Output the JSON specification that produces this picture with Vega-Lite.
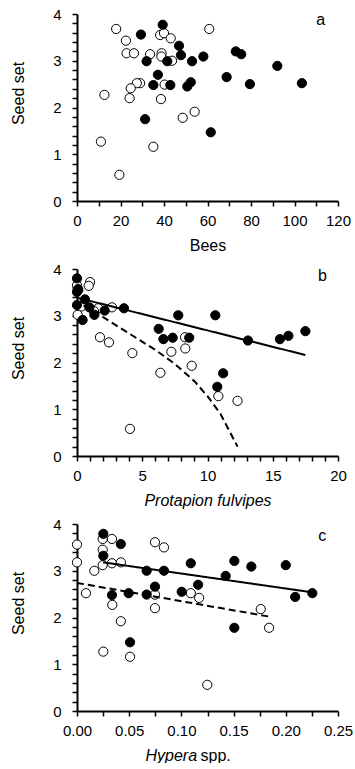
{
  "$schema": "https://vega.github.io/schema/vega-lite/v6.json",
  "padding": {"left": 10, "top": 7, "right": 0, "bottom": 0},
  "background": "white",
  "bounds": "flush",
  "spacing": 68,
  "config": {
    "font": "Liberation Sans",
    "view": {"stroke": null},
    "axis": {
      "grid": false,
      "domainColor": "black",
      "domainWidth": 2,
      "tickColor": "black",
      "tickWidth": 1.5,
      "tickSize": 5,
      "labelColor": "black",
      "labelFont": "Liberation Sans",
      "labelFontSize": 15,
      "titleColor": "black",
      "titleFont": "Liberation Sans",
      "titleFontSize": 16,
      "titleFontWeight": "normal",
      "labelFlush": false,
      "labelOverlap": false,
      "labelBound": false
    },
    "axisY": {"labelPadding": 11, "titleX": -59, "titleY": 79, "titleBaseline": "middle", "titleAngle": -90},
    "axisX": {"labelPadding": 7, "titleY": 44, "titleBaseline": "middle"}
  },
  "datasets": {
    "a_pts": [
      {"x": 18, "y": 3.68, "g": "open"}, {"x": 22.5, "y": 3.43, "g": "open"}, {"x": 22.8, "y": 3.16, "g": "open"},
      {"x": 26.2, "y": 3.16, "g": "open"}, {"x": 33.6, "y": 3.14, "g": "open"}, {"x": 38.2, "y": 3.55, "g": "open"},
      {"x": 40, "y": 3.59, "g": "open"}, {"x": 43.1, "y": 3.48, "g": "open"}, {"x": 38.9, "y": 3.16, "g": "open"},
      {"x": 38.8, "y": 3.09, "g": "open"}, {"x": 43.7, "y": 3.0, "g": "open"}, {"x": 60.8, "y": 3.68, "g": "open"},
      {"x": 29, "y": 2.52, "g": "open"}, {"x": 27.5, "y": 2.52, "g": "open"}, {"x": 24.7, "y": 2.41, "g": "open"},
      {"x": 24.2, "y": 2.2, "g": "open"}, {"x": 12.6, "y": 2.27, "g": "open"}, {"x": 40.3, "y": 2.49, "g": "open"},
      {"x": 38.6, "y": 2.18, "g": "open"}, {"x": 48.6, "y": 1.78, "g": "open"}, {"x": 54.1, "y": 1.91, "g": "open"},
      {"x": 11, "y": 1.27, "g": "open"}, {"x": 35.1, "y": 1.16, "g": "open"}, {"x": 19.5, "y": 0.56, "g": "open"},
      {"x": 39.4, "y": 3.77, "g": "filled"}, {"x": 29.4, "y": 3.56, "g": "filled"}, {"x": 46.9, "y": 3.32, "g": "filled"},
      {"x": 47.8, "y": 3.12, "g": "filled"}, {"x": 32, "y": 2.99, "g": "filled"}, {"x": 41.5, "y": 2.99, "g": "filled"},
      {"x": 52.9, "y": 2.99, "g": "filled"}, {"x": 58.1, "y": 3.09, "g": "filled"}, {"x": 73, "y": 3.2, "g": "filled"},
      {"x": 75.5, "y": 3.14, "g": "filled"}, {"x": 92.1, "y": 2.89, "g": "filled"}, {"x": 37.2, "y": 2.7, "g": "filled"},
      {"x": 35.1, "y": 2.48, "g": "filled"}, {"x": 42.9, "y": 2.48, "g": "filled"}, {"x": 50.7, "y": 2.45, "g": "filled"},
      {"x": 52.3, "y": 2.54, "g": "filled"}, {"x": 68.8, "y": 2.65, "g": "filled"}, {"x": 79.5, "y": 2.5, "g": "filled"},
      {"x": 103.4, "y": 2.52, "g": "filled"}, {"x": 31.3, "y": 1.75, "g": "filled"}, {"x": 61.5, "y": 1.47, "g": "filled"}
    ],
    "b_pts": [
      {"x": 0, "y": 3.65, "g": "open"}, {"x": 0.1, "y": 3.55, "g": "open"}, {"x": 1.0, "y": 3.72, "g": "open"},
      {"x": 0.9, "y": 3.64, "g": "open"}, {"x": 0.05, "y": 3.02, "g": "open"}, {"x": 0.35, "y": 3.2, "g": "open"},
      {"x": 1.63, "y": 3.16, "g": "open"}, {"x": 2.68, "y": 3.18, "g": "open"}, {"x": 1.3, "y": 3.1, "g": "open"},
      {"x": 1.76, "y": 2.54, "g": "open"}, {"x": 2.45, "y": 2.43, "g": "open"}, {"x": 4.24, "y": 2.2, "g": "open"},
      {"x": 7.23, "y": 2.23, "g": "open"}, {"x": 8.3, "y": 2.3, "g": "open"}, {"x": 8.28, "y": 2.54, "g": "open"},
      {"x": 8.79, "y": 1.93, "g": "open"}, {"x": 6.39, "y": 1.78, "g": "open"}, {"x": 10.83, "y": 1.28, "g": "open"},
      {"x": 12.3, "y": 1.18, "g": "open"}, {"x": 4.06, "y": 0.58, "g": "open"},
      {"x": 0, "y": 3.8, "g": "filled"}, {"x": 0.08, "y": 3.57, "g": "filled"}, {"x": 0, "y": 3.51, "g": "filled"},
      {"x": 0.61, "y": 3.35, "g": "filled"}, {"x": 0, "y": 3.23, "g": "filled"}, {"x": 0.95, "y": 3.18, "g": "filled"},
      {"x": 1.33, "y": 3.02, "g": "filled"}, {"x": 0.43, "y": 2.91, "g": "filled"}, {"x": 2.12, "y": 3.11, "g": "filled"},
      {"x": 3.6, "y": 3.16, "g": "filled"}, {"x": 7.76, "y": 3.01, "g": "filled"}, {"x": 10.6, "y": 3.01, "g": "filled"},
      {"x": 6.26, "y": 2.72, "g": "filled"}, {"x": 6.62, "y": 2.5, "g": "filled"}, {"x": 7.33, "y": 2.53, "g": "filled"},
      {"x": 8.6, "y": 2.53, "g": "filled"}, {"x": 13.1, "y": 2.47, "g": "filled"}, {"x": 15.55, "y": 2.5, "g": "filled"},
      {"x": 16.2, "y": 2.57, "g": "filled"}, {"x": 17.5, "y": 2.67, "g": "filled"}, {"x": 11.2, "y": 1.77, "g": "filled"},
      {"x": 10.75, "y": 1.48, "g": "filled"}
    ],
    "b_lines": [
      {"x": 0.1, "y": 3.38, "s": "solid"}, {"x": 17.5, "y": 2.16, "s": "solid"},
      {"x": 0.5, "y": 3.22, "s": "dashed"}, {"x": 2, "y": 2.97, "s": "dashed"}, {"x": 4, "y": 2.62, "s": "dashed"},
      {"x": 6, "y": 2.27, "s": "dashed"}, {"x": 7.5, "y": 1.97, "s": "dashed"}, {"x": 9, "y": 1.6, "s": "dashed"},
      {"x": 10, "y": 1.28, "s": "dashed"}, {"x": 11, "y": 0.9, "s": "dashed"}, {"x": 12.3, "y": 0.2, "s": "dashed"}
    ],
    "c_pts": [
      {"x": 0, "y": 3.56, "g": "open"}, {"x": 0, "y": 3.18, "g": "open"}, {"x": 0.0166, "y": 3.0, "g": "open"},
      {"x": 0.0086, "y": 2.52, "g": "open"}, {"x": 0.0246, "y": 3.68, "g": "open"}, {"x": 0.0246, "y": 3.45, "g": "open"},
      {"x": 0.0335, "y": 3.68, "g": "open"}, {"x": 0.0246, "y": 3.12, "g": "open"}, {"x": 0.0335, "y": 3.16, "g": "open"},
      {"x": 0.042, "y": 3.18, "g": "open"}, {"x": 0.0338, "y": 2.27, "g": "open"}, {"x": 0.042, "y": 1.92, "g": "open"},
      {"x": 0.0747, "y": 3.61, "g": "open"}, {"x": 0.0833, "y": 3.5, "g": "open"}, {"x": 0.0747, "y": 2.49, "g": "open"},
      {"x": 0.0747, "y": 2.2, "g": "open"}, {"x": 0.109, "y": 2.52, "g": "open"}, {"x": 0.117, "y": 2.42, "g": "open"},
      {"x": 0.176, "y": 2.18, "g": "open"}, {"x": 0.184, "y": 1.78, "g": "open"}, {"x": 0.0252, "y": 1.27, "g": "open"},
      {"x": 0.0508, "y": 1.16, "g": "open"}, {"x": 0.1248, "y": 0.56, "g": "open"},
      {"x": 0.0252, "y": 3.79, "g": "filled"}, {"x": 0.042, "y": 3.57, "g": "filled"}, {"x": 0.0252, "y": 3.32, "g": "filled"},
      {"x": 0.0667, "y": 3.0, "g": "filled"}, {"x": 0.0833, "y": 3.0, "g": "filled"}, {"x": 0.0747, "y": 2.66, "g": "filled"},
      {"x": 0.0667, "y": 2.49, "g": "filled"}, {"x": 0.0495, "y": 2.52, "g": "filled"}, {"x": 0.0335, "y": 2.48, "g": "filled"},
      {"x": 0.1003, "y": 2.55, "g": "filled"}, {"x": 0.116, "y": 2.7, "g": "filled"}, {"x": 0.109, "y": 3.16, "g": "filled"},
      {"x": 0.1507, "y": 3.21, "g": "filled"}, {"x": 0.167, "y": 3.09, "g": "filled"}, {"x": 0.1424, "y": 2.89, "g": "filled"},
      {"x": 0.2, "y": 3.12, "g": "filled"}, {"x": 0.209, "y": 2.44, "g": "filled"}, {"x": 0.2254, "y": 2.52, "g": "filled"},
      {"x": 0.1507, "y": 1.78, "g": "filled"}, {"x": 0.0508, "y": 1.47, "g": "filled"}
    ],
    "c_lines": [
      {"x": 0.025, "y": 3.18, "s": "solid"}, {"x": 0.225, "y": 2.54, "s": "solid"},
      {"x": 0, "y": 2.74, "s": "dashed"}, {"x": 0.184, "y": 2.02, "s": "dashed"}
    ]
  },
  "vconcat": [
    {
      "width": 261,
      "height": 187,
      "encoding": {
        "x": {"field": "x", "type": "quantitative", "scale": {"domain": [0, 120], "nice": false},
          "axis": {"title": "Bees", "values": [0, 10, 20, 30, 40, 50, 60, 70, 80, 90, 100, 110, 120],
            "labelExpr": "datum.value % 20 === 0 ? datum.label : ''"}},
        "y": {"field": "y", "type": "quantitative", "scale": {"domain": [0, 4], "nice": false},
          "axis": {"title": "Seed set", "values": [0, 0.2, 0.4, 0.6, 0.8, 1, 1.2, 1.4, 1.6, 1.8, 2, 2.2, 2.4, 2.6, 2.8, 3, 3.2, 3.4, 3.6, 3.8, 4],
            "labelExpr": "abs(datum.value - round(datum.value)) < 0.001 ? '' + round(datum.value) : ''"}}
      },
      "layer": [
        {"data": {"name": "a_pts"}, "transform": [{"filter": "datum.g === 'open'"}],
          "mark": {"type": "circle", "fill": "white", "stroke": "black", "strokeWidth": 1, "size": 85, "opacity": 1}},
        {"data": {"name": "a_pts"}, "transform": [{"filter": "datum.g === 'filled'"}],
          "mark": {"type": "circle", "fill": "black", "stroke": "black", "strokeWidth": 1, "size": 85, "opacity": 1}},
        {"data": {"values": [{"x": 112, "y": 3.88, "t": "a"}]},
          "mark": {"type": "text", "fontSize": 16, "align": "center", "baseline": "middle", "color": "black"},
          "encoding": {"text": {"field": "t"}}}
      ]
    },
    {
      "width": 261,
      "height": 187,
      "encoding": {
        "x": {"field": "x", "type": "quantitative", "scale": {"domain": [0, 20], "nice": false},
          "axis": {"title": "Protapion fulvipes", "titleFontStyle": "italic",
            "values": [0, 1, 2, 3, 4, 5, 6, 7, 8, 9, 10, 11, 12, 13, 14, 15, 16, 17, 18, 19, 20],
            "labelExpr": "datum.value % 5 === 0 ? datum.label : ''"}},
        "y": {"field": "y", "type": "quantitative", "scale": {"domain": [0, 4], "nice": false},
          "axis": {"title": "Seed set", "values": [0, 0.2, 0.4, 0.6, 0.8, 1, 1.2, 1.4, 1.6, 1.8, 2, 2.2, 2.4, 2.6, 2.8, 3, 3.2, 3.4, 3.6, 3.8, 4],
            "labelExpr": "abs(datum.value - round(datum.value)) < 0.001 ? '' + round(datum.value) : ''"}}
      },
      "layer": [
        {"data": {"name": "b_pts"}, "transform": [{"filter": "datum.g === 'open'"}],
          "mark": {"type": "circle", "fill": "white", "stroke": "black", "strokeWidth": 1, "size": 85, "opacity": 1}},
        {"data": {"name": "b_pts"}, "transform": [{"filter": "datum.g === 'filled'"}],
          "mark": {"type": "circle", "fill": "black", "stroke": "black", "strokeWidth": 1, "size": 85, "opacity": 1}},
        {"data": {"name": "b_lines"},
          "mark": {"type": "line", "color": "black", "strokeWidth": 2},
          "encoding": {"strokeDash": {"field": "s", "type": "nominal", "scale": {"domain": ["solid", "dashed"], "range": [[1, 0], [7, 4]]}, "legend": null}}},
        {"data": {"values": [{"x": 18.8, "y": 3.84, "t": "b"}]},
          "mark": {"type": "text", "fontSize": 16, "align": "center", "baseline": "middle", "color": "black"},
          "encoding": {"text": {"field": "t"}}}
      ]
    },
    {
      "width": 261,
      "height": 187,
      "resolve": {"axis": {"x": "independent"}},
      "encoding": {
        "y": {"field": "y", "type": "quantitative", "scale": {"domain": [0, 4], "nice": false},
          "axis": {"title": "Seed set", "values": [0, 0.2, 0.4, 0.6, 0.8, 1, 1.2, 1.4, 1.6, 1.8, 2, 2.2, 2.4, 2.6, 2.8, 3, 3.2, 3.4, 3.6, 3.8, 4],
            "labelExpr": "abs(datum.value - round(datum.value)) < 0.001 ? '' + round(datum.value) : ''"}}
      },
      "layer": [
        {"data": {"name": "c_pts"}, "transform": [{"filter": "datum.g === 'open'"}],
          "mark": {"type": "circle", "fill": "white", "stroke": "black", "strokeWidth": 1, "size": 85, "opacity": 1},
          "encoding": {"x": {"field": "x", "type": "quantitative", "scale": {"domain": [0, 0.25], "nice": false},
            "axis": {"title": "Hypera", "orient": "bottom", "titleFontStyle": "italic", "titleX": 68, "titleAlign": "left",
              "values": [0, 0.025, 0.05, 0.075, 0.1, 0.125, 0.15, 0.175, 0.2, 0.225, 0.25],
              "labelExpr": "abs(datum.value * 20 - round(datum.value * 20)) < 0.001 ? format(datum.value, '.2f') : ''"}}}},
        {"data": {"name": "c_pts"}, "transform": [{"filter": "datum.g === 'filled'"}],
          "mark": {"type": "circle", "fill": "black", "stroke": "black", "strokeWidth": 1, "size": 85, "opacity": 1},
          "encoding": {"x": {"field": "x", "type": "quantitative",
            "axis": {"title": "spp.", "orient": "bottom", "titleX": 123, "titleY": 44, "titleAlign": "left", "domain": false, "ticks": false, "labels": false}}}},
        {"data": {"name": "c_lines"},
          "mark": {"type": "line", "color": "black", "strokeWidth": 2},
          "encoding": {"x": {"field": "x", "type": "quantitative", "axis": null},
            "strokeDash": {"field": "s", "type": "nominal", "scale": {"domain": ["solid", "dashed"], "range": [[1, 0], [7, 4]]}, "legend": null}}},
        {"data": {"values": [{"x": 0.235, "y": 3.75, "t": "c"}]},
          "mark": {"type": "text", "fontSize": 16, "align": "center", "baseline": "middle", "color": "black"},
          "encoding": {"x": {"field": "x", "type": "quantitative", "axis": null}, "text": {"field": "t"}}}
      ]
    }
  ]
}
